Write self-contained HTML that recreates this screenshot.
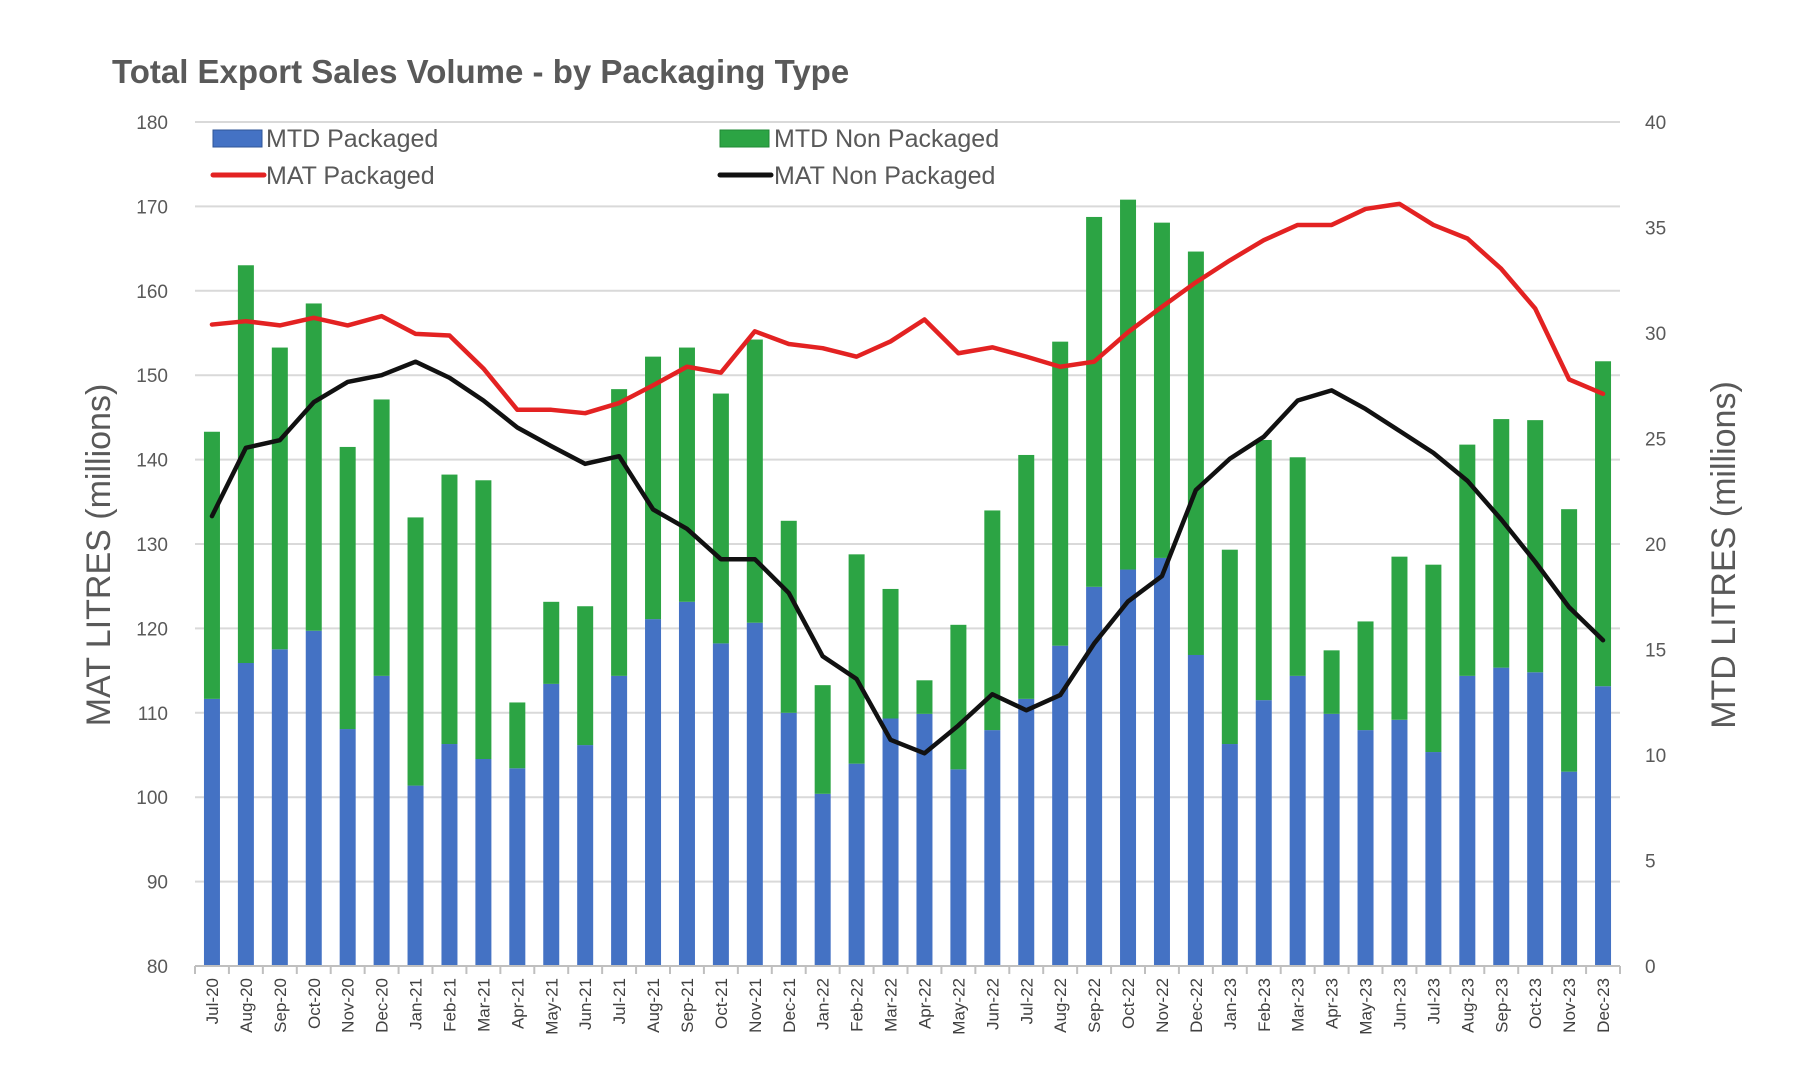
<!DOCTYPE html>
<html><head><meta charset="utf-8"><style>
html,body{margin:0;padding:0;background:#fff;}
svg{display:block;font-family:"Liberation Sans",sans-serif;}
</style></head><body>
<svg id="chart" width="1815" height="1085" viewBox="0 0 1815 1085">
<text x="112" y="83" font-size="33" font-weight="bold" fill="#595959">Total Export Sales Volume - by Packaging Type</text>
<g id="grid"></g><g id="bars"></g><g id="lines"></g><g id="axes"></g>
<g>
<rect x="213" y="130" width="49" height="17" fill="#4472c4" stroke="#2f5597"/>
<text x="266" y="147" font-size="25" fill="#595959">MTD Packaged</text>
<rect x="720" y="130" width="49" height="17" fill="#2ca444" stroke="#1f8a34"/>
<text x="774" y="147" font-size="25" fill="#595959">MTD Non Packaged</text>
<line x1="213" y1="175" x2="264" y2="175" stroke="#e32222" stroke-width="5" stroke-linecap="round"/>
<text x="266" y="184" font-size="25" fill="#595959">MAT Packaged</text>
<line x1="720" y1="175" x2="771" y2="175" stroke="#111" stroke-width="5" stroke-linecap="round"/>
<text x="774" y="184" font-size="25" fill="#595959">MAT Non Packaged</text>
</g>
<text transform="translate(110,555) rotate(-90)" text-anchor="middle" font-size="34" fill="#595959">MAT LITRES (millions)</text>
<text transform="translate(1735,555) rotate(-90)" text-anchor="middle" font-size="34" fill="#595959">MTD LITRES (millions)</text>
</svg>
<script>
const categories=["Jul-20","Aug-20","Sep-20","Oct-20","Nov-20","Dec-20","Jan-21","Feb-21","Mar-21","Apr-21","May-21","Jun-21","Jul-21","Aug-21","Sep-21","Oct-21","Nov-21","Dec-21","Jan-22","Feb-22","Mar-22","Apr-22","May-22","Jun-22","Jul-22","Aug-22","Sep-22","Oct-22","Nov-22","Dec-22","Jan-23","Feb-23","Mar-23","Apr-23","May-23","Jun-23","Jul-23","Aug-23","Sep-23","Oct-23","Nov-23","Dec-23"];
const mtdPackaged=[12.66,14.36,15.01,15.89,11.23,13.75,8.55,10.52,9.81,9.37,13.37,10.47,13.75,16.44,17.26,15.29,16.27,12.0,8.16,9.59,11.73,11.95,9.32,11.18,12.66,15.18,17.97,18.79,19.34,14.74,10.52,12.6,13.75,11.95,11.18,11.67,10.14,13.75,14.14,13.92,9.21,13.26];
const mtdNonPackaged=[12.66,18.85,14.3,15.51,13.37,13.1,12.71,12.77,13.21,3.12,3.89,6.58,13.59,12.44,12.05,11.84,13.42,9.1,5.15,9.92,6.14,1.59,6.85,10.41,11.56,14.41,17.53,17.53,15.89,19.12,9.21,12.33,10.36,3.01,5.15,7.73,8.88,10.96,11.78,11.95,12.44,15.4];
const matPackaged=[156.0,156.4,155.9,156.8,155.9,157.0,154.9,154.7,150.8,145.9,145.9,145.5,146.7,148.8,151.0,150.3,155.2,153.7,153.2,152.2,154.0,156.6,152.6,153.3,152.2,151.0,151.6,155.1,158.1,161.0,163.6,166.0,167.8,167.8,169.7,170.3,167.8,166.2,162.6,157.9,149.5,147.8];
const matNonPackaged=[133.3,141.4,142.3,146.8,149.2,150.0,151.6,149.7,147.0,143.8,141.6,139.5,140.4,134.1,131.8,128.2,128.2,124.2,116.7,114.0,106.8,105.2,108.5,112.2,110.3,112.1,118.2,123.2,126.2,136.4,140.1,142.7,147.0,148.2,146.0,143.4,140.8,137.5,132.9,127.9,122.5,118.6];
const leftTicks=[80,90,100,110,120,130,140,150,160,170,180];
const rightTicks=[0,5,10,15,20,25,30,35,40];

const NS="http://www.w3.org/2000/svg";
const X0=195,X1=1620,YT=122,YB=966;
const bw=(X1-X0)/categories.length;
const xC=i=>X0+bw*(i+0.5);
const yL=v=>YB-(v-80)/100*(YB-YT);
const yR=v=>YB-v/40*(YB-YT);
function mk(tag,attrs,parent){const e=document.createElementNS(NS,tag);for(const k in attrs)e.setAttribute(k,attrs[k]);parent.appendChild(e);return e;}
const grid=document.getElementById('grid'),bars=document.getElementById('bars'),lines=document.getElementById('lines'),axes=document.getElementById('axes');
leftTicks.forEach(t=>{
  if(t!==80){const g=mk('line',{x1:X0,x2:X1,y1:yL(t),y2:yL(t),stroke:'#d9d9d9','stroke-width':2},grid);
  
  }
  const tx=mk('text',{x:168,y:yL(t)+7,'text-anchor':'end','font-size':19,fill:'#595959'},axes);
  tx.textContent=t;
  
  
});
rightTicks.forEach(t=>{
  const tx=mk('text',{x:1645,y:yR(t)+7,'font-size':19,fill:'#595959'},axes);
  tx.textContent=t;
  
  
});
const bW=16;
categories.forEach((c,i)=>{
  const x=xC(i)-bW/2;
  const yb=yR(mtdPackaged[i]);
  const b=mk('rect',{x:x,y:yb,width:bW,height:YB-yb,fill:'#4472c4'},bars);
  
  
  const yt=yR(mtdPackaged[i]+mtdNonPackaged[i]);
  const g=mk('rect',{x:x,y:yt,width:bW,height:yb-yt,fill:'#2ca444'},bars);
  
  
  const tx=mk('text',{transform:`translate(${xC(i)+6},978) rotate(-90)`,'text-anchor':'end','font-size':17,fill:'#404040'},axes);
  tx.textContent=c;
  
  
  const tk=mk('line',{x1:X0+bw*i,x2:X0+bw*i,y1:YB,y2:YB+8,stroke:'#bfbfbf','stroke-width':2},axes);
  
  
});
const tkEnd=mk('line',{x1:X1,x2:X1,y1:YB,y2:YB+8,stroke:'#bfbfbf','stroke-width':2},axes);


const ax=mk('line',{x1:X0,x2:X1,y1:YB,y2:YB,stroke:'#bfbfbf','stroke-width':2},axes);


function line(data,color,name){
  const p=mk('polyline',{points:data.map((v,i)=>xC(i)+','+yL(v)).join(' '),fill:'none',stroke:color,'stroke-width':4.5,'stroke-linejoin':'round','stroke-linecap':'round'},lines);
  
  
}
line(matPackaged,'#e32222','line-mat-packaged');
line(matNonPackaged,'#111111','line-mat-non-packaged');
</script>
</body></html>
